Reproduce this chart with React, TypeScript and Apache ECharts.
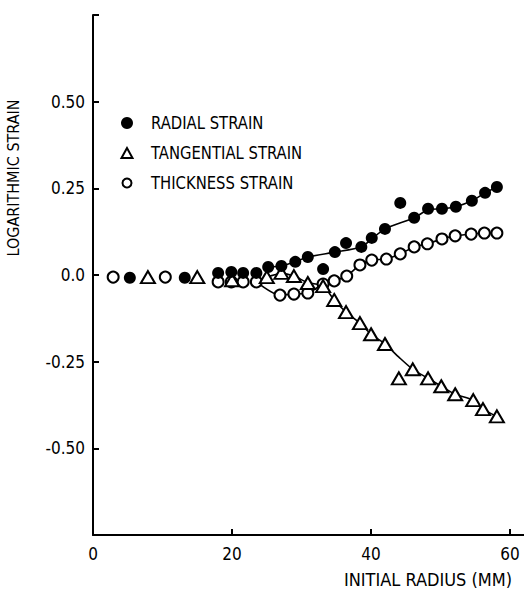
import React, { useEffect, useRef } from "react";
import * as echarts from "echarts";

// Data
const radialX = [5.3, 13.2, 18.0, 19.9, 21.6, 23.5, 25.2, 27.1, 29.1, 30.9, 33.1, 34.8, 36.4, 38.6, 40.1, 42.0, 44.2, 46.2, 48.2, 50.2, 52.2, 54.5, 56.4, 58.1];
const radialY = [-0.008, -0.008, 0.006, 0.009, 0.006, 0.006, 0.023, 0.026, 0.038, 0.052, 0.017, 0.066, 0.092, 0.081, 0.107, 0.133, 0.208, 0.165, 0.191, 0.191, 0.197, 0.214, 0.237, 0.254];

const tangentialX = [7.9, 15.0, 20.0, 25.0, 27.1, 28.9, 30.9, 33.1, 34.7, 36.4, 38.4, 40.0, 42.0, 44.0, 46.0, 48.2, 50.1, 52.1, 54.7, 56.1, 58.1];
const tangentialY = [-0.006, -0.006, -0.015, -0.006, 0.006, -0.003, -0.023, -0.032, -0.072, -0.107, -0.139, -0.171, -0.199, -0.298, -0.272, -0.298, -0.321, -0.344, -0.361, -0.387, -0.408];

const thicknessX = [2.9, 10.4, 18.0, 19.9, 21.6, 23.5, 26.9, 28.9, 30.9, 33.1, 34.7, 36.5, 38.4, 40.1, 42.2, 44.2, 46.2, 48.1, 50.2, 52.1, 54.4, 56.3, 58.1];
const thicknessY = [-0.006, -0.006, -0.02, -0.02, -0.02, -0.02, -0.058, -0.055, -0.052, -0.026, -0.017, -0.003, 0.029, 0.043, 0.046, 0.061, 0.081, 0.09, 0.104, 0.113, 0.118, 0.121, 0.121];

// Fitted curves drawn through the points
const radialFitX = [25.2, 27.1, 29.1, 30.9, 34.8, 38.6, 40.1, 42.0, 46.2, 48.2, 50.2, 52.2, 54.5, 56.4, 58.1];
const radialFitY = [0.023, 0.026, 0.038, 0.052, 0.066, 0.081, 0.104, 0.133, 0.165, 0.188, 0.191, 0.197, 0.214, 0.237, 0.254];

const tangentialFitX = [23.5, 25.0, 27.1, 28.9, 30.9, 33.1, 34.7, 36.4, 38.4, 40.0, 42.0, 44.0, 46.0, 48.2, 50.1, 52.1, 54.7, 56.1, 58.1];
const tangentialFitY = [-0.02, -0.006, 0.004, -0.003, -0.022, -0.032, -0.072, -0.107, -0.139, -0.171, -0.199, -0.237, -0.272, -0.298, -0.321, -0.344, -0.361, -0.387, -0.408];

const thicknessFitX = [23.5, 26.9, 28.9, 30.9, 33.1, 34.7, 36.5, 38.4, 40.1, 42.2, 44.2, 46.2, 48.1, 50.2, 52.1, 54.4, 56.3, 58.1];
const thicknessFitY = [-0.02, -0.058, -0.055, -0.052, -0.026, -0.017, -0.003, 0.029, 0.043, 0.046, 0.061, 0.081, 0.09, 0.104, 0.113, 0.118, 0.121, 0.121];

const xTicks = [0, 20, 40, 60];
const yTickLabels = ["-0.50", "-0.25", "0.0", "0.25", "0.50"];
const legendNames = ["RADIAL STRAIN", "TANGENTIAL STRAIN", "THICKNESS STRAIN"];
const xTitle = "INITIAL RADIUS (MM)";
const yTitle = "LOGARITHMIC STRAIN";

const FONT = "'Liberation Sans Narrow', 'DejaVu Sans Condensed', 'Liberation Sans', sans-serif";

const zip = (xs: number[], ys: number[]) => xs.map((x, i) => [x, ys[i]]);

export default function App() {
  const ref = useRef<HTMLDivElement>(null);
  useEffect(() => {
    if (!ref.current) return;
    const chart = echarts.init(ref.current, undefined, { renderer: "svg" });
    const lineSeries = (data: number[][]) => ({
      type: "line",
      data,
      smooth: 0.25,
      symbol: "none",
      lineStyle: { color: "#000", width: 1.6 },
      z: 1,
    });
    const legendText = (i: number, y: number) => ({
      type: "text",
      x: 151,
      y,
      scaleY: 1.12,
      style: { text: legendNames[i], fill: "#000", font: `16.5px ${FONT}`, verticalAlign: "middle" },
    });
    chart.setOption({
      animation: false,
      backgroundColor: "#fff",
      grid: { left: 93, right: 0, top: 15, bottom: 58, containLabel: false },
      xAxis: {
        type: "value",
        min: 0,
        max: 62,
        axisLine: { onZero: false, lineStyle: { color: "#000", width: 2 } },
        axisTick: { inside: true, length: 6, lineStyle: { color: "#000", width: 2 }, customValues: xTicks },
        axisLabel: {
          customValues: xTicks,
          color: "#000",
          fontFamily: FONT,
          fontSize: 17,
          margin: 10,
        },
        splitLine: { show: false },
      },
      yAxis: {
        type: "value",
        min: -0.75,
        max: 0.75,
        interval: 0.25,
        axisLine: { onZero: false, lineStyle: { color: "#000", width: 2 } },
        axisTick: { inside: true, length: 6, lineStyle: { color: "#000", width: 2 } },
        axisLabel: {
          color: "#000",
          fontFamily: FONT,
          fontSize: 17,
          margin: 8,
          formatter: (v: number) => {
            const idx = Math.round(v / 0.25) + 2;
            if (idx < 0 || idx >= yTickLabels.length) return "";
            return yTickLabels[idx];
          },
        },
        splitLine: { show: false },
      },
      graphic: [
        {
          type: "text",
          x: 13,
          y: 178,
          rotation: Math.PI / 2,
          style: { text: yTitle, fill: "#000", font: `16px ${FONT}`, align: "center", verticalAlign: "middle" },
        },
        {
          type: "text",
          x: 428,
          y: 579,
          style: { text: xTitle, fill: "#000", font: `18px ${FONT}`, align: "center", verticalAlign: "middle" },
        },
        { type: "circle", shape: { cx: 127, cy: 123, r: 6 }, style: { fill: "#000" } },
        {
          type: "polygon",
          shape: { points: [[127, 148], [121.5, 158], [132.5, 158]] },
          style: { fill: "#fff", stroke: "#000", lineWidth: 2 },
        },
        { type: "circle", shape: { cx: 127, cy: 183, r: 4.5 }, style: { fill: "#fff", stroke: "#000", lineWidth: 2 } },
        legendText(0, 123),
        legendText(1, 153),
        legendText(2, 183),
      ],
      series: [
        lineSeries(zip(radialFitX, radialFitY)),
        lineSeries(zip(tangentialFitX, tangentialFitY)),
        lineSeries(zip(thicknessFitX, thicknessFitY)),
        {
          name: legendNames[2],
          type: "scatter",
          data: zip(thicknessX, thicknessY),
          symbol: "circle",
          symbolSize: 11,
          itemStyle: { color: "#fff", borderColor: "#000", borderWidth: 2, opacity: 1 },
          z: 3,
        },
        {
          name: legendNames[1],
          type: "scatter",
          data: zip(tangentialX, tangentialY),
          symbol: "triangle",
          symbolSize: [14, 12],
          itemStyle: { color: "#fff", borderColor: "#000", borderWidth: 2, opacity: 1 },
          z: 3,
        },
        {
          name: legendNames[0],
          type: "scatter",
          data: zip(radialX, radialY),
          symbol: "circle",
          symbolSize: 12,
          itemStyle: { color: "#000", opacity: 1 },
          z: 4,
        },
      ],
    });
    return () => chart.dispose();
  }, []);
  return (
    <div
      ref={ref}
      style={{ position: "fixed", left: 0, top: 0, width: 524, height: 593, background: "#fff" }}
    />
  );
}
